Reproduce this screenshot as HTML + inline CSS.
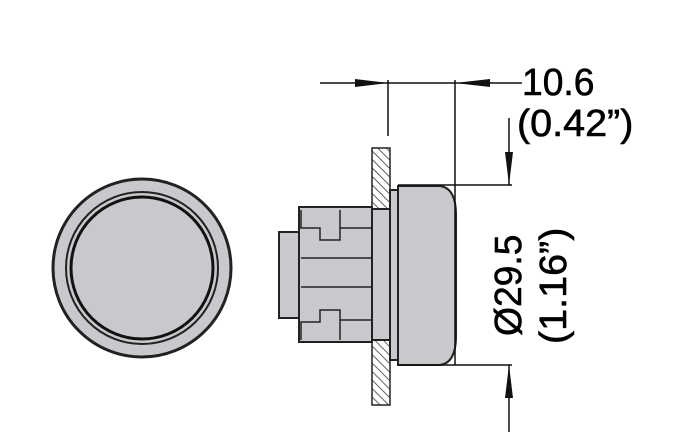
<!DOCTYPE html>
<html><head><style>body{margin:0;background:#fff}svg{display:block}</style></head><body>
<svg width="700" height="445" viewBox="0 0 700 445" xmlns="http://www.w3.org/2000/svg">
<defs>
<pattern id="h" width="6" height="6" patternUnits="userSpaceOnUse" patternTransform="rotate(-45)">
<line x1="0" y1="0" x2="0" y2="6" stroke="#333" stroke-width="1.5"/></pattern>
</defs>
<!-- front view -->
<circle cx="142" cy="268" r="89" fill="#c8c9cc" stroke="#222" stroke-width="3"/>
<circle cx="142" cy="268" r="76" fill="none" stroke="#222" stroke-width="2"/>
<circle cx="142" cy="268" r="71" fill="#c8c9cc" stroke="#111" stroke-width="3"/>
<!-- body -->
<g stroke="#222" stroke-width="2" fill="#c8c9cc">
<rect x="279" y="232" width="22" height="86"/>
<rect x="299" y="207" width="73" height="135"/>
<rect x="372" y="209" width="18" height="131"/>
<rect x="390" y="190" width="9" height="170"/>
<path d="M398 186 H440 Q456 188 456 215 V336 Q456 363 440 365 H398 Z"/>
</g>
<g stroke="#222" stroke-width="1.5" fill="none">
<path d="M301 210 V228 H320 V240 H340 V210"/>
<path d="M301 340 V322 H320 V310 H340 V340"/>
<line x1="301" y1="258" x2="372" y2="258"/>
<line x1="301" y1="287" x2="372" y2="287"/>
<line x1="340" y1="228" x2="372" y2="228"/>
<line x1="340" y1="320" x2="372" y2="320"/>
<line x1="380" y1="209" x2="380" y2="340"/>
</g>
<!-- panel -->
<rect x="372" y="148" width="18" height="257" fill="url(#h)" stroke="#222" stroke-width="1.5"/>
<rect x="372" y="209" width="18" height="131" fill="#c8c9cc" stroke="#222" stroke-width="2"/>
<!-- dims -->
<g stroke="#111" stroke-width="1.5" fill="none">
<line x1="320" y1="83" x2="522" y2="83"/>
<line x1="388" y1="80" x2="388" y2="136"/>
<line x1="455" y1="80" x2="455" y2="365"/>
<line x1="398" y1="185" x2="512" y2="185"/>
<line x1="398" y1="365" x2="512" y2="365"/>
<line x1="509" y1="118" x2="509" y2="185"/>
<line x1="509" y1="365" x2="509" y2="432"/>
</g>
<g fill="#111">
<polygon points="355,79 388,83 355,87"/>
<polygon points="490,79 455,83 490,87"/>
<polygon points="505,152 509,185 513,152"/>
<polygon points="505,398 509,365 513,398"/>
</g>
<g font-family="Liberation Sans, sans-serif" font-size="38" fill="#000" stroke="#000" stroke-width="0.6">
<text transform="translate(522 95) scale(0.98 1)">10.6</text>
<text transform="translate(517 136) scale(1.04 1)">(0.42”)</text>
<text transform="translate(521 336) rotate(-90) scale(0.98 1)">Ø29.5</text>
<text transform="translate(566 344) rotate(-90) scale(1.04 1)">(1.16”)</text>
</g>
</svg>
</body></html>
